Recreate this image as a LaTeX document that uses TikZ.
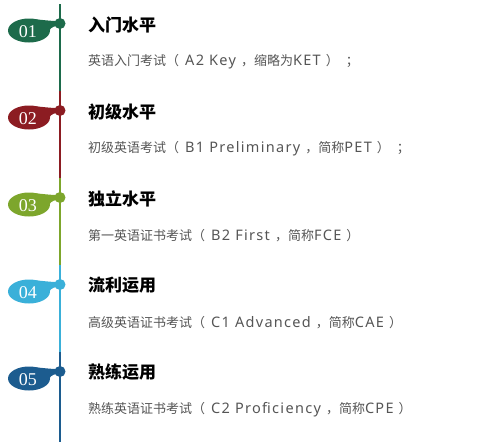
\documentclass[tikz,border=0pt]{standalone}
\usepackage{fontspec}
\setmainfont{Liberation Serif}
\newfontfamily\cjk{Noto Sans CJK SC}
\newfontfamily\latinfont[LetterSpace=9]{Noto Sans}
\newcommand\lat[1]{{\latinfont\fontsize{14.5}{14.5}\selectfont #1}}
\newcommand\semi{\hspace{7pt}；}
\usetikzlibrary{calc}
\definecolor{lvA}{HTML}{1D6B4B}
\definecolor{lvB}{HTML}{8C1C22}
\definecolor{lvC}{HTML}{7DA62C}
\definecolor{lvD}{HTML}{3AB0D9}
\definecolor{lvE}{HTML}{1C5C8F}
\definecolor{notegray}{HTML}{555555}
\tikzset{
  axis/.style={line width=2pt},
  badge/.style={text=white, inner sep=0pt, font=\fontsize{18}{18}\selectfont},
  knot/.style={circle, inner sep=0pt, minimum size=11pt},
  title/.style={anchor=west, inner sep=0pt, font=\cjk\bfseries\fontsize{17}{17}\selectfont},
  note/.style={anchor=west, inner sep=0pt, text=notegray, font=\cjk\fontsize{13}{13}\selectfont}
}

\begin{document}
\begin{tikzpicture}[x=1pt, y=-1pt]
  \useasboundingbox (0,0) rectangle (477,442);
  %%%%% START %%%%%
  \foreach \i/\c/\t/\s in {
      1/lvA/入门水平/英语入门考试（\hspace{6pt}\lat{A2 Key~}，缩略为\lat{KET~}）\semi,
      2/lvB/初级水平/初级英语考试（\hspace{6pt}\lat{B1 Preliminary~}，简称\lat{PET~}）\semi,
      3/lvC/独立水平/第一英语证书考试（\hspace{6pt}\lat{B2 First~}，简称\lat{FCE~}）,
      4/lvD/流利运用/高级英语证书考试（\hspace{6pt}\lat{C1 Advanced~}，简称\lat{CAE~}）,
      5/lvE/熟练运用/熟练英语证书考试（\hspace{6pt}\lat{C2 Proficiency~}，简称\lat{CPE~}）}{
    \pgfmathsetmacro\ytop{4+87*(\i-1)}
    \pgfmathsetmacro\ybot{\i==5 ? 442 : \ytop+87}
    \pgfmathsetmacro\y{23.5+87*(\i-1)}
    \coordinate (top\i) at (60,\ytop);
    \coordinate (bot\i) at (60,\ybot);
    \draw[axis, \c] (top\i) -- (bot\i);
    \begin{scope}[shift={(0,\y)}]
      % teardrop badge
      \fill[\c] (29,7) ellipse [x radius=21, y radius=12];
      \fill[\c] (35,-4.2) .. controls (44,-3.5) and (50,-2.5) .. (57,-2.5)
        -- (57,2.5) .. controls (52,3) and (50,5) .. (47.5,10) -- cycle;
      \node[badge] (b\i) at (28,8) {0\i};
      \node[knot, fill=\c] (k\i) at (60,0) {};
      \node[title] (t\i) at (88,1) {\t};
      \node[note] (n\i) at (88,38) {\s};
    \end{scope}
  }
  %%%%% END %%%%%
\end{tikzpicture}
\end{document}
